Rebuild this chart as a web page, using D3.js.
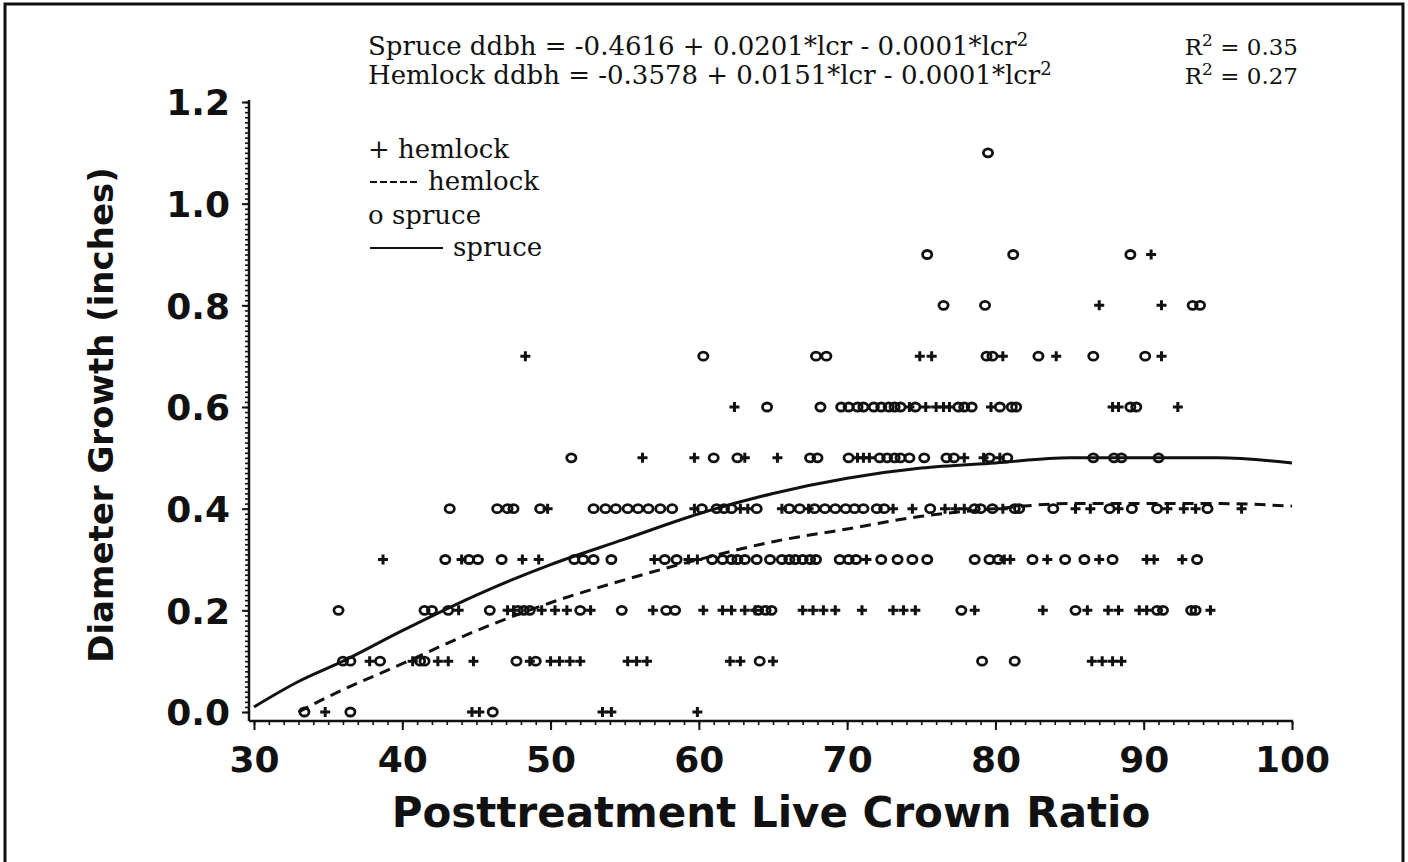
<!DOCTYPE html>
<html>
<head>
<meta charset="utf-8">
<script src="https://cdn.jsdelivr.net/npm/d3@7"></script>
<style>
  html, body { margin: 0; padding: 0; background: #fff; }
  svg { display: block; }
</style>
</head>
<body>
<svg id="chart" width="1408" height="862"></svg>
<script>
// ---------------- data ----------------
const xTicks = [30, 40, 50, 60, 70, 80, 90, 100];
const yTicks = [0.0, 0.2, 0.4, 0.6, 0.8, 1.0, 1.2];

// spruce observations ("o"): [ddbh, list of lcr]
const spruceRows = [
  [1.1, [79.5]],
  [0.9, [75.4, 81.2, 89.1]],
  [0.8, [76.5, 79.3, 93.3, 93.8]],
  [0.7, [60.3, 67.9, 68.6, 79.4, 79.8, 82.9, 86.6, 90.1]],
  [0.6, [64.6, 68.2, 69.6, 70.1, 70.7, 71.1, 71.8, 72.3, 72.8, 73.2, 73.6, 74.6, 77.5, 77.9, 78.4, 80.3, 81.1, 81.4, 89.1, 89.5]],
  [0.5, [51.4, 61.0, 62.6, 67.5, 68.0, 70.1, 72.2, 72.7, 73.2, 73.6, 74.2, 75.2, 76.7, 77.2, 79.6, 80.8, 86.6, 88.0, 88.5, 91.0]],
  [0.4, [43.2, 46.4, 47.1, 47.5, 49.3, 52.9, 53.7, 54.4, 55.2, 55.9, 56.6, 57.4, 58.2, 60.2, 61.2, 61.7, 62.2, 63.9, 66.1, 66.8, 67.8, 68.5, 69.2, 69.9, 70.5, 71.1, 72.0, 72.5, 75.6, 78.6, 79.0, 79.8, 81.3, 81.6, 83.9, 87.7, 89.2, 90.9, 94.3]],
  [0.3, [42.9, 44.5, 45.1, 46.7, 51.6, 52.2, 52.9, 54.1, 57.7, 58.5, 60.9, 61.6, 62.2, 62.6, 63.1, 63.9, 64.8, 65.6, 66.1, 66.5, 67.0, 67.5, 67.9, 69.5, 70.1, 70.6, 72.3, 73.4, 74.4, 75.4, 78.6, 79.6, 80.2, 82.5, 84.7, 86.0, 87.9, 93.6]],
  [0.2, [35.7, 41.5, 42.0, 43.1, 45.9, 47.8, 48.2, 48.6, 52.0, 54.8, 57.8, 58.4, 64.0, 64.5, 64.9, 77.7, 85.4, 90.9, 91.3, 93.2, 93.5]],
  [0.1, [36.0, 36.5, 38.5, 41.2, 41.5, 47.7, 49.0, 64.1, 79.1, 81.3]],
  [0.0, [33.4, 36.5, 46.1]]
];

// hemlock observations ("+"): [ddbh, list of lcr]
const hemlockRows = [
  [0.9, [90.5]],
  [0.8, [87.0, 91.2]],
  [0.7, [48.3, 74.9, 75.7, 80.5, 84.1, 91.2]],
  [0.6, [62.4, 74.2, 75.3, 76.0, 76.5, 76.9, 79.7, 87.9, 88.3, 92.3]],
  [0.5, [56.2, 59.7, 63.1, 65.3, 70.7, 71.1, 71.5, 77.9, 79.2, 80.3]],
  [0.4, [49.8, 59.7, 62.8, 63.3, 65.6, 67.4, 73.1, 74.4, 76.6, 77.3, 77.9, 80.5, 85.4, 86.4, 88.3, 91.6, 92.7, 93.5, 96.6]],
  [0.3, [38.7, 44.0, 48.1, 49.2, 57.0, 59.3, 59.9, 71.3, 80.6, 81.0, 83.5, 87.0, 90.2, 90.7, 92.6]],
  [0.2, [43.8, 47.1, 47.5, 49.4, 50.3, 51.1, 52.7, 56.9, 60.3, 61.6, 62.2, 63.1, 63.8, 67.0, 67.7, 68.4, 69.2, 71.0, 73.1, 73.8, 74.6, 78.6, 83.2, 86.2, 87.6, 88.3, 89.7, 90.2, 94.5]],
  [0.1, [37.8, 40.7, 42.4, 43.1, 44.8, 48.6, 50.0, 50.6, 51.3, 52.0, 55.2, 55.8, 56.5, 62.1, 62.8, 65.0, 86.5, 87.2, 87.9, 88.5]],
  [0.0, [34.8, 44.7, 45.2, 53.5, 54.1, 59.9]]
];

// fitted curves, points
const spruceCurveX = [30, 33, 36, 40, 45, 50, 55, 60, 65, 70, 75, 80, 85, 90, 95, 100];
const spruceCurveY = [0.01, 0.06, 0.10, 0.16, 0.23, 0.29, 0.34, 0.39, 0.43, 0.46, 0.48, 0.49, 0.50, 0.50, 0.50, 0.49];
const hemlockCurveX = [33, 35, 40, 45, 50, 55, 60, 65, 70, 75, 80, 85, 90, 95, 100];
const hemlockCurveY = [0.0, 0.03, 0.095, 0.16, 0.215, 0.26, 0.30, 0.335, 0.36, 0.385, 0.40, 0.41, 0.41, 0.41, 0.405];

const equationLabels = [
  "Spruce ddbh = -0.4616 + 0.0201*lcr - 0.0001*lcr",
  "Hemlock ddbh = -0.3578 + 0.0151*lcr - 0.0001*lcr"
];
const rSquared = ["0.35", "0.27"];
const legendLabels = ["+ hemlock", "hemlock", "o spruce", "spruce"];

// ---------------- drawing ----------------
const svg = d3.select("#chart");
const ink = "#111";
const sans = "'DejaVu Sans', sans-serif";
const serif = "'DejaVu Serif', serif";

const x = d3.scaleLinear().domain([30, 100]).range([254, 1292]);
const y = d3.scaleLinear().domain([0, 1.2]).range([712, 102]);
const axisX = 249, axisY = 721;

// page frame
svg.append("path")
  .attr("d", "M5,862 L5,4 L1403,4 L1403,862")
  .attr("fill", "none").attr("stroke", ink).attr("stroke-width", 3);

// y axis: minor ticks every 0.01, major every 0.2
const gy = svg.append("g").attr("transform", `translate(${axisX},0)`);
gy.call(d3.axisLeft(y).tickValues(d3.range(0, 121).map(i => i / 100)).tickSize(4).tickFormat(""));
gy.call(g => g.select(".domain").remove());
gy.selectAll(".tick line").attr("stroke", ink).attr("stroke-width", 1.6);
gy.append("line").attr("x1", 0).attr("x2", 0).attr("y1", y(1.2) - 2).attr("y2", axisY)
  .attr("stroke", ink).attr("stroke-width", 2.5);
const gyMajor = svg.append("g").attr("transform", `translate(${axisX},0)`);
gyMajor.call(d3.axisLeft(y).tickValues(yTicks).tickSize(7).tickPadding(12).tickFormat(d3.format(".1f")));
gyMajor.select(".domain").remove();
gyMajor.selectAll(".tick line").attr("stroke", ink).attr("stroke-width", 2);
gyMajor.selectAll(".tick text")
  .attr("font-family", sans).attr("font-weight", "bold").attr("font-size", 36).attr("fill", ink)
  .attr("dy", "0.36em");

// x axis: minor ticks every 1, major every 10
const gx = svg.append("g").attr("transform", `translate(0,${axisY})`);
gx.call(d3.axisBottom(x).tickValues(d3.range(30, 101)).tickSize(4).tickFormat(""));
gx.call(g => g.select(".domain").remove());
gx.selectAll(".tick line").attr("stroke", ink).attr("stroke-width", 1.6);
gx.append("line").attr("x1", axisX).attr("x2", x(100) + 1).attr("y1", 0).attr("y2", 0)
  .attr("stroke", ink).attr("stroke-width", 2.5);
const gxMajor = svg.append("g").attr("transform", `translate(0,${axisY})`);
gxMajor.call(d3.axisBottom(x).tickValues(xTicks).tickSize(9).tickPadding(16).tickFormat(d3.format("d")));
gxMajor.select(".domain").remove();
gxMajor.selectAll(".tick line").attr("stroke", ink).attr("stroke-width", 2);
gxMajor.selectAll(".tick text")
  .attr("font-family", sans).attr("font-weight", "bold").attr("font-size", 36).attr("fill", ink);

// axis titles
svg.append("text")
  .attr("x", (x(30) + x(100)) / 2 - 2).attr("y", 827)
  .attr("text-anchor", "middle")
  .attr("font-family", sans).attr("font-weight", "bold").attr("font-size", 42).attr("fill", ink)
  .text("Posttreatment Live Crown Ratio");
svg.append("text")
  .attr("transform", `translate(113,${(y(0) + y(1.2)) / 2 + 8}) rotate(-90)`)
  .attr("text-anchor", "middle")
  .attr("font-family", sans).attr("font-weight", "bold").attr("font-size", 34).attr("fill", ink)
  .text("Diameter Growth (inches)");

// curves
const line = d3.line().x(d => x(d[0])).y(d => y(d[1])).curve(d3.curveMonotoneX);
svg.append("path")
  .datum(spruceCurveX.map((v, i) => [v, spruceCurveY[i]]))
  .attr("d", line).attr("fill", "none").attr("stroke", ink).attr("stroke-width", 3);
svg.append("path")
  .datum(hemlockCurveX.map((v, i) => [v, hemlockCurveY[i]]))
  .attr("d", line).attr("fill", "none").attr("stroke", ink).attr("stroke-width", 3)
  .attr("stroke-dasharray", "11,7");

// points
const spruce = spruceRows.flatMap(([v, xs]) => xs.map(l => [l, v]));
const hemlock = hemlockRows.flatMap(([v, xs]) => xs.map(l => [l, v]));

svg.append("g").selectAll("ellipse").data(spruce).join("ellipse")
  .attr("cx", d => x(d[0])).attr("cy", d => y(d[1]))
  .attr("rx", 4.6).attr("ry", 4.0)
  .attr("fill", "none").attr("stroke", ink).attr("stroke-width", 2.8);

svg.append("g").selectAll("path").data(hemlock).join("path")
  .attr("d", d => {
    const cx = x(d[0]), cy = y(d[1]), s = 5;
    return `M${cx - s},${cy}H${cx + s}M${cx},${cy - s}V${cy + s}`;
  })
  .attr("fill", "none").attr("stroke", ink).attr("stroke-width", 3);

// equations
const eq = svg.append("g").attr("font-family", serif).attr("fill", ink);
equationLabels.forEach((label, i) => {
  const by = 55 + i * 29;
  const t = eq.append("text").attr("x", 368).attr("y", by).attr("font-size", 26);
  t.append("tspan").text(label);
  t.append("tspan").attr("font-size", 18).attr("dy", -9).text("2");
  const r = eq.append("text").attr("x", 1298).attr("y", by).attr("text-anchor", "end").attr("font-size", 23);
  r.append("tspan").text("R");
  r.append("tspan").attr("font-size", 17).attr("dy", -9).text("2");
  r.append("tspan").attr("dy", 9).text(" = " + rSquared[i]);
});

// legend
const lg = svg.append("g").attr("font-family", serif).attr("font-size", 26).attr("fill", ink);
lg.append("text").attr("x", 368).attr("y", 158).text(legendLabels[0]);
lg.append("line").attr("x1", 370).attr("x2", 418).attr("y1", 182).attr("y2", 182)
  .attr("stroke", ink).attr("stroke-width", 2).attr("stroke-dasharray", "7,3");
lg.append("text").attr("x", 428).attr("y", 190).text(legendLabels[1]);
lg.append("text").attr("x", 368).attr("y", 224).text(legendLabels[2]);
lg.append("line").attr("x1", 370).attr("x2", 443).attr("y1", 248).attr("y2", 248)
  .attr("stroke", ink).attr("stroke-width", 2);
lg.append("text").attr("x", 453).attr("y", 256).text(legendLabels[3]);
</script>
</body>
</html>
